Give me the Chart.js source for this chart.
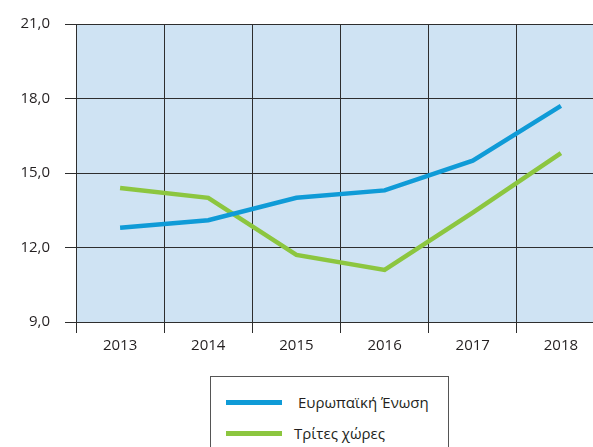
<!DOCTYPE html>
<html>
<head>
<meta charset="utf-8">
<script src="https://cdn.jsdelivr.net/npm/chart.js@4/dist/chart.umd.min.js"></script>
<style>
    html, body { margin: 0; padding: 0; background: #fff; overflow: hidden; width: 593px; height: 447px; }
    #wrap { position: relative; width: 610px; height: 365px; }
    #legend {
        position: absolute; left: 210px; top: 376px; width: 239px; height: 90px;
        border: 1px solid #555; box-sizing: border-box;
        font-family: "Open Sans", sans-serif; font-size: 15px; color: #231f20;
    }
    .item { position: absolute; left: 15px; height: 20px; }
    .swatch { position: absolute; left: 0; top: 8px; width: 56px; height: 5px; }
    .label { position: absolute; top: 0; white-space: nowrap; line-height: 20px; }
</style>
</head>
<body>
<div id="wrap"><canvas id="myChart" width="610" height="365"></canvas></div>
<div id="legend"></div>
<script>
const years = ['2013', '2014', '2015', '2016', '2017', '2018'];
const euValues = [12.8, 13.1, 14.0, 14.3, 15.5, 17.7];
const thirdValues = [14.4, 14.0, 11.7, 11.1, 13.4, 15.8];
const seriesNames = ['Ευρωπαϊκή Ένωση', 'Τρίτες χώρες'];
const yTicks = [9, 12, 15, 18, 21];

const blue = '#0f9bd7';
const green = '#8cc63f';
const gridColor = '#2e2e2e';
const textColor = '#231f20';

const plotBg = {
    id: 'plotBg',
    beforeDraw(chart) {
        const { ctx, chartArea } = chart;
        ctx.save();
        ctx.fillStyle = '#cfe3f3';
        ctx.fillRect(chartArea.left, chartArea.top, chartArea.right - chartArea.left, chartArea.bottom - chartArea.top);
        ctx.restore();
    }
};

const chart = new Chart(document.getElementById('myChart').getContext('2d'), {
    type: 'line',
    data: {
        labels: years,
        datasets: [{
            label: seriesNames[0],
            data: euValues,
            borderColor: blue,
            borderWidth: 4.5,
            pointRadius: 0,
            tension: 0,
            fill: false
        }, {
            label: seriesNames[1],
            data: thirdValues,
            borderColor: green,
            borderWidth: 4.5,
            pointRadius: 0,
            tension: 0,
            fill: false
        }]
    },
    options: {
        responsive: false,
        animation: false,
        layout: { padding: { top: 12, right: 5, left: 0, bottom: 0 } },
        plugins: {
            legend: { display: false },
            tooltip: { enabled: false }
        },
        scales: {
            x: {
                offset: true,
                afterFit(scale) { scale.height = 43; },
                grid: {
                    offset: true,
                    color: gridColor,
                    lineWidth: 1,
                    tickLength: 11,
                    drawTicks: true
                },
                border: { color: gridColor, width: 1 },
                ticks: {
                    color: textColor,
                    padding: 4,
                    font: { family: '"Open Sans", sans-serif', size: 15 }
                }
            },
            y: {
                min: 9,
                max: 21,
                afterFit(scale) { scale.width = 76; },
                afterBuildTicks(scale) { scale.ticks = yTicks.map(v => ({ value: v })); },
                grid: {
                    color: gridColor,
                    lineWidth: 1,
                    tickLength: 11
                },
                border: { color: gridColor, width: 1 },
                ticks: {
                    color: textColor,
                    padding: 15,
                    font: { family: '"Open Sans", sans-serif', size: 15 },
                    callback: v => v.toFixed(1).replace('.', ',')
                }
            }
        }
    },
    plugins: [plotBg]
});

// legend box built from the datasets
const legend = document.getElementById('legend');
const offsets = [{ top: 15, text: 72 }, { top: 46, text: 68 }];
chart.data.datasets.forEach((ds, i) => {
    const item = document.createElement('div');
    item.className = 'item';
    item.style.top = offsets[i].top + 'px';
    item.innerHTML = `<div class="swatch" style="background:${ds.borderColor}"></div>` +
        `<div class="label" style="left:${offsets[i].text}px">${ds.label}</div>`;
    legend.appendChild(item);
});
</script>
</body>
</html>
